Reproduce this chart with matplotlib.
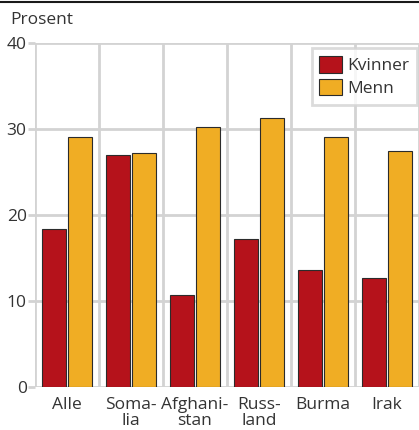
import matplotlib
matplotlib.use('Agg')
import matplotlib.pyplot as plt
import numpy as np
from matplotlib.lines import Line2D

plt.rcParams['font.family'] = ['Open Sans', 'DejaVu Sans']

categories = ['Alle', 'Soma-\nlia', 'Afghani-\nstan', 'Russ-\nland', 'Burma', 'Irak']
kvinner = [18.4, 27.0, 10.7, 17.2, 13.6, 12.7]
menn = [29.1, 27.2, 30.2, 31.3, 29.1, 27.4]
yticks = [0, 10, 20, 30, 40]

RED = '#b5121b'
YELLOW = '#f0ad24'
GRID = '#d3d3d3'
TEXT = '#333333'
FS = 12.5

fig = plt.figure(figsize=(4.19, 4.30), dpi=100)
ax = fig.add_axes([35 / 419, 1 - 387 / 430, 384 / 419, 344 / 430])

x = np.arange(len(categories))
w = 0.37
ax.bar(x - 0.2, kvinner, w, color=RED, edgecolor='#2b2b2b', linewidth=0.8,
       label='Kvinner', zorder=3)
ax.bar(x + 0.2, menn, w, color=YELLOW, edgecolor='#2b2b2b', linewidth=0.8,
       label='Menn', zorder=3)

ax.set_xlim(-0.5, len(categories) - 0.5)
ax.set_ylim(0, 40)
ax.set_yticks(yticks)
ax.set_xticks(x)
ax.set_xticklabels(categories, fontsize=FS, color=TEXT, linespacing=1.05)
ax.tick_params(axis='y', labelsize=FS, colors=TEXT, length=5, width=2,
               color=GRID, pad=1)
ax.tick_params(axis='x', length=0, pad=7, colors=TEXT)

# grid: horizontal at ticks, vertical at category boundaries
for yv in yticks:
    ax.axhline(yv, color=GRID, lw=2, zorder=1)
for xb in np.arange(-0.5, len(categories) + 0.5, 1.0):
    ax.axvline(xb, color=GRID, lw=2, zorder=1)
for s in ax.spines.values():
    s.set_visible(False)

leg = ax.legend(loc='upper right', bbox_to_anchor=(0.995, 0.985), fontsize=FS,
                frameon=True, fancybox=False, handlelength=1.3, handleheight=1.1,
                handletextpad=0.3, borderpad=0.45, labelspacing=0.25,
                borderaxespad=0.0)
leg.get_frame().set_edgecolor(GRID)
leg.get_frame().set_linewidth(2)
for t in leg.get_texts():
    t.set_color(TEXT)

fig.text(10 / 419, 1 - 20 / 430, 'Prosent', fontsize=12.5, color=TEXT,
         ha='left', va='center')
fig.add_artist(Line2D([0, 1], [1 - 2 / 430, 1 - 2 / 430], color='#1a1a1a',
                      lw=1.5, transform=fig.transFigure))

fig.savefig('out.png', dpi=100)
